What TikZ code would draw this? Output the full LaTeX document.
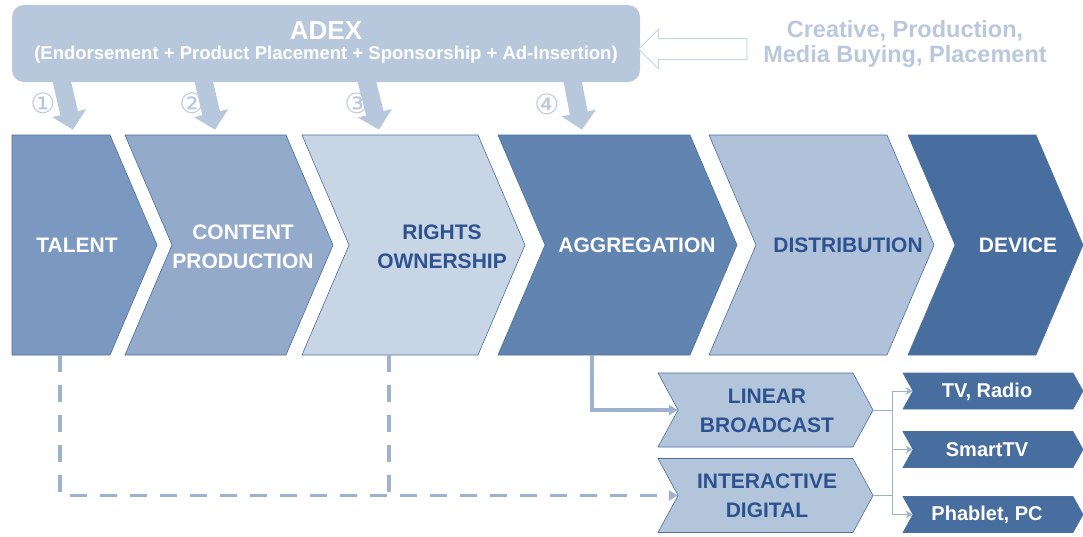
\documentclass[tikz,border=0pt]{standalone}
\usepackage{fontspec}
\setmainfont{Liberation Sans}
\newfontfamily\circledfont{DejaVu Sans}
\usetikzlibrary{shapes.symbols,shapes.arrows,arrows.meta}

\definecolor{adexblue}{HTML}{B8C8DC}
\definecolor{rimblue}{HTML}{4A6FA0}
\definecolor{talentblue}{HTML}{7B99C0}
\definecolor{contentblue}{HTML}{93AACA}
\definecolor{rightsblue}{HTML}{C8D5E4}
\definecolor{aggblue}{HTML}{6184B0}
\definecolor{distblue}{HTML}{B0C2D9}
\definecolor{deviceblue}{HTML}{476E9F}
\definecolor{inkblue}{HTML}{2D5290}
\definecolor{channelblue}{HTML}{B3C5DB}
\definecolor{linkblue}{HTML}{9CB2CF}
\definecolor{paleblue}{HTML}{B9C8DB}

\newcommand{\stagefont}{\fontsize{21}{29}\selectfont\bfseries}

\begin{document}
\begin{tikzpicture}[x=1pt,y=-1pt,
    adexbox/.style={rounded corners=12pt, fill=adexblue, inner sep=0pt,
      minimum width=628pt, minimum height=77pt},
    stage/.style={signal, signal to=east, signal from=west,
      signal pointer angle=133.7, draw=rimblue, line width=0.6pt,
      inner sep=0pt, minimum height=220pt},
    channel/.style={stage, fill=channelblue, signal pointer angle=123,
      minimum height=74pt, minimum width=215pt},
    outlet/.style={stage, fill=deviceblue, signal pointer angle=122,
      minimum height=36pt, minimum width=180pt},
    stagetext/.style={font=\stagefont, align=center, inner sep=0pt},
    step number/.style={font=\circledfont\fontsize{28}{28}\selectfont,
      text=adexblue, inner sep=0pt},
    adexarrow/.style={adexblue, line width=18pt,
      -{Triangle[width=34pt,length=17pt]}},
    feed/.style={linkblue, line width=3.5pt,
      -{Triangle[width=10pt,length=9pt]}},
    dashfeed/.style={feed, dash pattern=on 17pt off 13pt},
    fork/.style={linkblue, line width=1pt},
  ]
  \path[use as bounding box, fill=white] (0,0) rectangle (1083,536);

  % advertising spend on top
  \node[adexbox] (adex) at (326,43.5) {};
  \node[font=\fontsize{26}{28}\selectfont\bfseries, text=white] (adextitle) at (326,31) {ADEX};
  \node[font=\fontsize{18.5}{20}\selectfont\bfseries, text=white] (adexmix) at (326,55)
    {(Endorsement + Product Placement + Sponsorship + Ad-Insertion)};
  \node[single arrow, draw=rightsblue, fill=white, line width=1pt,
    shape border rotate=180, minimum height=108pt, inner xsep=0pt, inner ysep=10pt,
    single arrow head extend=9pt] (inflow) at (698,49) {};
  \node[font=\fontsize{23.5}{25}\selectfont\bfseries, text=paleblue, align=center]
    (services) at (905,44) {Creative, Production,\\Media Buying, Placement};

  % value chain
  \node[stage, signal from=nowhere, fill=talentblue, minimum width=145pt] (talent) at (61,245) {};
  \node[stage, fill=contentblue, minimum width=208pt] (content) at (229,245) {};
  \node[stage, fill=rightsblue, minimum width=223pt] (rights) at (413.5,245) {};
  \node[stage, fill=aggblue, minimum width=239pt] (agg) at (617.5,245) {};
  \node[stage, fill=distblue, minimum width=225pt] (dist) at (821.5,245) {};
  \node[stage, fill=deviceblue, minimum width=175pt] (device) at (995.5,245) {};

  \node[stagetext, text=white] (talentname) at (77,245) {TALENT};
  \node[stagetext, text=white] (contentname) at (243,247) {CONTENT\\PRODUCTION};
  \node[stagetext, text=inkblue] (rightsname) at (442,247) {RIGHTS\\OWNERSHIP};
  \node[stagetext, text=white] (aggname) at (637,245) {AGGREGATION};
  \node[stagetext, text=inkblue] (distname) at (848,245) {DISTRIBUTION};
  \node[stagetext, text=white] (devicename) at (1018,245) {DEVICE};

  % where the ad money enters
  \draw[adexarrow] ([xshift=-265pt,yshift=4pt]adex.south) -- ([xshift=12pt,yshift=5pt]talent.north);
  \draw[adexarrow] ([xshift=-123pt,yshift=4pt]adex.south) -- ([xshift=-14pt,yshift=5pt]content.north);
  \draw[adexarrow] ([xshift=40pt,yshift=4pt]adex.south) -- ([xshift=-34.5pt,yshift=5pt]rights.north);
  \draw[adexarrow] ([xshift=246pt,yshift=4pt]adex.south) -- ([xshift=-35.5pt,yshift=5pt]agg.north);
  \node[step number] (one) at (43,103) {①};
  \node[step number] (two) at (192,103) {②};
  \node[step number] (three) at (357,103) {③};
  \node[step number] (four) at (547,104) {④};

  % distribution channels and devices
  \node[channel] (linear) at (765.5,410) {};
  \node[channel] (digital) at (765.5,495.5) {};
  \node[stagetext, text=inkblue] (linearname) at (767,411) {LINEAR\\BROADCAST};
  \node[stagetext, text=inkblue] (digitalname) at (767,496) {INTERACTIVE\\DIGITAL};

  \node[outlet] (tv) at (993,391) {};
  \node[outlet] (smart) at (993,449.5) {};
  \node[outlet] (pc) at (993,514.5) {};
  \node[stagetext, font=\fontsize{20}{22}\selectfont\bfseries, text=white] (tvname) at (987,392) {TV, Radio};
  \node[stagetext, font=\fontsize{20}{22}\selectfont\bfseries, text=white] (smartname) at (987,450) {SmartTV};
  \node[stagetext, font=\fontsize{20}{22}\selectfont\bfseries, text=white] (pcname) at (987,515) {Phablet, PC};

  \draw[feed] ([xshift=-25.5pt]agg.south) |- (linear.west);
  \coordinate (talentdrop) at ([xshift=-1pt]talent.south);
  \coordinate (rightsdrop) at ([xshift=-24.5pt]rights.south);
  \draw[dashfeed] (talentdrop) |- (digital.west);
  \draw[dashfeed, -] (rightsdrop) -- (rightsdrop |- digital.west);

  \coordinate (hub) at (892,450);
  \draw[fork] (linear.east) -- (linear.east -| hub);
  \draw[fork] (digital.east) -- (digital.east -| hub);
  \draw[fork] (hub |- tv.west) -- (hub |- pc.west);
  \foreach \dev in {tv,smart,pc}
    \draw[fork, -{Stealth[length=7pt,width=8pt]}] (hub |- \dev.west) -- (\dev.west);
\end{tikzpicture}
\end{document}
